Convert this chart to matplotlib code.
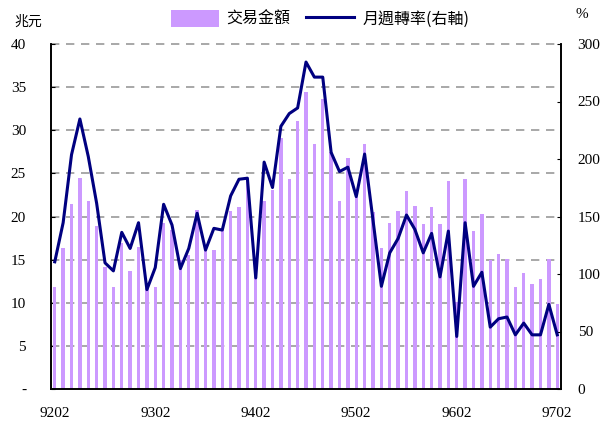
import matplotlib
matplotlib.use("Agg")
import matplotlib.pyplot as plt
from matplotlib.lines import Line2D
from matplotlib.patches import Patch
import numpy as np

months = [f"{y}{m:02d}" for y in range(92, 98) for m in range(1, 13)]
months = months[1:62]  # 9202 .. 9702

amount = [11.8, 16.4, 21.5, 24.5, 21.8, 18.9, 14.2, 11.8, 16.9, 13.7, 16.5, 11.7,
          11.8, 19.3, 18.4, 14.9, 15.5, 20.7, 16.3, 16.1, 18.4, 20.6, 21.1, 24.4,
          13.1, 21.8, 23.1, 29.1, 24.3, 31.1, 34.4, 28.4, 33.6, 27.5, 21.8, 26.8,
          22.3, 28.4, 20.5, 16.3, 19.3, 20.6, 22.9, 21.2, 19.1, 21.1, 19.1, 24.1,
          10.1, 24.3, 18.3, 20.3, 14.9, 15.6, 15.1, 11.8, 13.5, 12.2, 12.7, 15.1, 9.9]

turnover = [110.6, 144.6, 203.7, 234.8, 202.2, 161.5, 109.7, 102.7, 136.2, 122.2, 144.6, 86.4,
            105.6, 160.6, 142.6, 104.7, 122.2, 152.8, 120.8, 139.7, 138.2, 167.9, 182.4, 183.3,
            96.6, 197.3, 175.2, 228.4, 239.5, 244.4, 284.3, 271.2, 271.2, 205.7, 189.1, 192.9,
            167.3, 204.3, 146.9, 89.3, 118.4, 130.9, 151.3, 138.8, 118.4, 135.3, 97.5, 137.3,
            45.7, 144.6, 89.3, 101.5, 53.8, 61.1, 62.6, 47.1, 57.3, 47.1, 47.1, 73.6, 47.1]

xtick_labels = ["9202", "9302", "9402", "9502", "9602", "9702"]
left_ticks = [0, 5, 10, 15, 20, 25, 30, 35, 40]
left_labels = ["-", "5", "10", "15", "20", "25", "30", "35", "40"]
right_ticks = [0, 50, 100, 150, 200, 250, 300]

serif = ["Liberation Serif", "DejaVu Serif"]
cjk = ["Noto Sans CJK TC", "DejaVu Sans"]

fig = plt.figure(figsize=(6.09, 4.22), dpi=100)
ax = fig.add_axes([51 / 609, 1 - 389 / 422, 510 / 609, 345 / 422])
ax2 = ax.twinx()

x = np.arange(len(months))
ax.bar(x, amount, width=0.4, color="#CC99FF", zorder=2)
ax.set_ylim(0, 40)
ax.set_xlim(-0.45, len(months) - 0.55)
ax.set_yticks(left_ticks)
ax.set_yticklabels(left_labels, fontfamily=serif, fontsize=11)
for y in left_ticks[1:]:
    ax.axhline(y, color="#999999", lw=1.2, ls=(0, (5, 4)), zorder=1, clip_on=False)
xt = [months.index(m) for m in xtick_labels]
ax.set_xticks(xt)
ax.set_xticklabels(xtick_labels, fontfamily=serif, fontsize=11)
ax.tick_params(axis="x", length=0, pad=13)
ax.tick_params(axis="y", direction="in", length=3, pad=18)

ax2.plot(x, turnover, color="#000080", lw=2.2, zorder=3)
ax2.set_ylim(0, 300)
ax2.set_yticks(right_ticks)
ax2.set_yticklabels([str(t) for t in right_ticks], fontfamily=serif, fontsize=11)
ax2.tick_params(axis="y", direction="in", length=3, pad=12)

for a in (ax, ax2):
    a.spines["top"].set_visible(False)
    for s in ("left", "right", "bottom"):
        a.spines[s].set_linewidth(1.2)
        a.spines[s].set_color("black")

fig.text(14 / 609, 1 - 22 / 422, "兆元", fontfamily=cjk, fontsize=10, va="center", ha="left")
fig.text(582 / 609, 1 - 15 / 422, "%", fontfamily=serif, fontsize=11, va="center", ha="center")

handles = [Patch(facecolor="#CC99FF", edgecolor="none"),
           Line2D([0], [0], color="#000080", lw=2.2)]
labels = ["交易金額", "月週轉率(右軸)"]
fig.legend(handles, labels, loc="center", bbox_to_anchor=(320 / 609, 1 - 19 / 422),
           ncol=2, frameon=False, prop={"family": cjk, "size": 11.5},
           handlelength=3.0, handleheight=1.3, columnspacing=1.0, handletextpad=0.5)

fig.savefig("out.png", dpi=100)
